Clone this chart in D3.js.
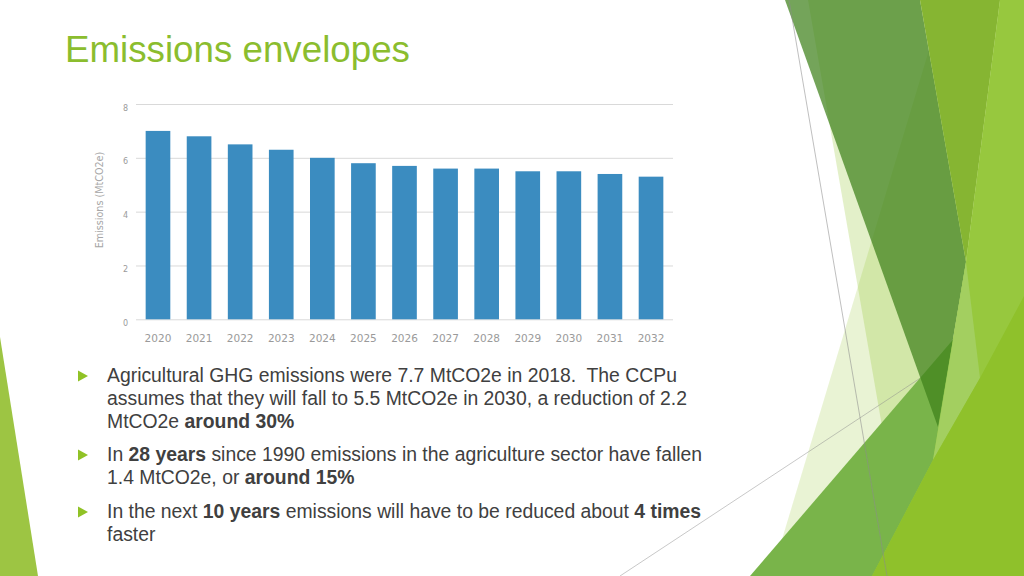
<!DOCTYPE html>
<html>
<head>
<meta charset="utf-8">
<script src="https://cdn.jsdelivr.net/npm/d3@7"></script>
<style>
  body { margin: 0; background: #fff; }
  svg { display: block; }
  .body-text { white-space: pre; }
</style>
</head>
<body>
<div id="container"></div>
<script>
// chart data
var years = ["2020", "2021", "2022", "2023", "2024", "2025", "2026", "2027", "2028", "2029", "2030", "2031", "2032"];
var emissions = [7.0, 6.8, 6.5, 6.3, 6.0, 5.8, 5.7, 5.6, 5.6, 5.5, 5.5, 5.4, 5.3];
var yTicks = [0, 2, 4, 6, 8];

var titleText = "Emissions envelopes";
var yAxisTitle = "Emissions (MtCO2e)";

// bullet text, each line a list of [text, bold]
var bullets = [
  [
    [["Agricultural GHG emissions were 7.7 MtCO2e in 2018.  The CCPu", false]],
    [["assumes that they will fall to 5.5 MtCO2e in 2030, a reduction of 2.2", false]],
    [["MtCO2e ", false], ["around 30%", true]]
  ],
  [
    [["In ", false], ["28 years", true], [" since 1990 emissions in the agriculture sector have fallen", false]],
    [["1.4 MtCO2e, or ", false], ["around 15%", true]]
  ],
  [
    [["In the next ", false], ["10 years", true], [" emissions will have to be reduced about ", false], ["4 times", true]],
    [["faster", false]]
  ]
];

var svgWidth = 1024;
var svgHeight = 576;

var svg = d3.select("#container")
  .append("svg")
  .attr("width", svgWidth)
  .attr("height", svgHeight);

svg.append("rect").attr("width", svgWidth).attr("height", svgHeight).attr("fill", "#fff");

// ---- slide decoration (theme shapes) ----
var lime = "#90c226";
var deco = svg.append("g");
function poly(pts, fill, op) {
  deco.append("polygon")
    .attr("points", pts.map(function(p) { return p.join(","); }).join(" "))
    .attr("fill", fill)
    .attr("fill-opacity", op == null ? 1 : op);
}
function line(a, b, op) {
  deco.append("line")
    .attr("x1", a[0]).attr("y1", a[1]).attr("x2", b[0]).attr("y2", b[1])
    .attr("stroke", "#8c8c8c").attr("stroke-width", 0.8).attr("stroke-opacity", op);
}
poly([[0, 337], [38, 576], [0, 576]], "#9dc543");
poly([[808, 0], [1024, 0], [1024, 576], [908, 576]], lime, 0.25);
poly([[771, 576], [944, 0], [1024, 0], [1024, 576]], lime, 0.2);
line([620, 576], [925, 375], 0.6);
poly([[750, 576], [1024, 257], [1024, 576]], "#79b44a");
poly([[785, 0], [920, 0], [966, 262], [938, 427]], "#3e811a", 0.72);
poly([[920, 0], [1000, 0], [966, 262]], "#86b532");
poly([[1000, 0], [1024, 0], [1024, 576], [872, 576], [933, 460], [966, 262]], "#97c83e");
poly([[966, 262], [980, 378], [933, 460]], "#a3cf60");
poly([[872, 576], [933, 460], [980, 378], [1024, 296], [1024, 576]], "#8fc12b");
line([789, 0], [887, 576], 0.7);

// ---- title ----
var title = svg.append("text")
  .attr("x", 65)
  .attr("y", 62)
  .attr("fill", "#8bbd2e")
  .style("font-family", "'Liberation Sans', Arial, sans-serif")
  .style("font-size", "36px")
  .text(titleText);
var tw = title.node().getComputedTextLength();
title.style("font-size", (36 * 345 / tw) + "px");

// ---- chart ----
var margin = { top: 104, left: 136 };
var width = 537;
var height = 215.3;

var chart = svg.append("g")
  .attr("transform", `translate(${margin.left}, ${margin.top})`);

var xBand = d3.scaleBand()
  .domain(years)
  .range([0, width])
  .paddingInner(0.4)
  .paddingOuter(0.235);

var yLinear = d3.scaleLinear()
  .domain([0, 8])
  .range([height, 0]);

var leftAxis = d3.axisLeft(yLinear)
  .tickValues(yTicks)
  .tickSize(-width)
  .tickPadding(8)
  .tickFormat(d3.format("d"));

var yAxisG = chart.append("g").call(leftAxis);
yAxisG.select(".domain").remove();
yAxisG.selectAll(".tick line").attr("stroke", "#d9d9d9");
yAxisG.selectAll(".tick text")
  .attr("fill", "#9a9a9a")
  .attr("dy", "0.75em")
  .style("font-family", "'DejaVu Sans', Verdana, sans-serif")
  .style("font-size", "8px");

chart.selectAll(".bar")
  .data(emissions)
  .enter()
  .append("rect")
  .attr("class", "bar")
  .attr("x", function(d, i) { return xBand(years[i]); })
  .attr("width", xBand.bandwidth())
  .attr("y", function(d) { return yLinear(d); })
  .attr("height", function(d) { return height - yLinear(d); })
  .attr("fill", "#3b8cc0");

var bottomAxis = d3.axisBottom(xBand)
  .tickSize(0)
  .tickPadding(15);

var xAxisG = chart.append("g")
  .attr("transform", `translate(0, ${height})`)
  .call(bottomAxis);
xAxisG.select(".domain").remove();
xAxisG.selectAll(".tick text")
  .attr("fill", "#9a9a9a")
  .attr("dy", "0.71em")
  .style("font-family", "'DejaVu Sans', Verdana, sans-serif")
  .style("font-size", "10.5px");

chart.append("text")
  .attr("transform", "rotate(-90)")
  .attr("x", -(200 - margin.top))
  .attr("y", -33)
  .attr("text-anchor", "middle")
  .attr("fill", "#a6a6a6")
  .style("font-family", "'DejaVu Sans', Verdana, sans-serif")
  .style("font-size", "9.6px")
  .text(yAxisTitle);

// ---- bullet list ----
var bodyFont = "'Liberation Sans', Arial, sans-serif";
var bulletTop = [382, 461, 518];
var lineGap = 23;
var textX = 107;

var list = svg.append("g");
var bodyLines = [];
bullets.forEach(function(lines, bi) {
  var by = bulletTop[bi];
  list.append("path")
    .attr("d", `M${textX - 29},${by - 11.5} L${textX - 19},${by - 6} L${textX - 29},${by - 0.5} Z`)
    .attr("fill", lime);
  lines.forEach(function(parts, li) {
    var t = list.append("text")
      .attr("class", "body-text")
      .attr("x", textX)
      .attr("y", by + li * lineGap)
      .attr("fill", "#404040")
      .style("font-family", bodyFont)
      .style("font-size", "18px");
    parts.forEach(function(p) {
      t.append("tspan")
        .style("font-weight", p[1] ? "bold" : "normal")
        .text(p[0]);
    });
    bodyLines.push(t);
  });
});
// fit body size so the three long lines together span like on the slide
var longLines = [0, 1, 5];
var measured = d3.sum(longLines, function(i) { return bodyLines[i].node().getComputedTextLength(); });
var bodySize = 18 * (556 + 590 + 599) / measured;
bodyLines.forEach(function(t) { t.style("font-size", bodySize + "px"); });
</script>
</body>
</html>
